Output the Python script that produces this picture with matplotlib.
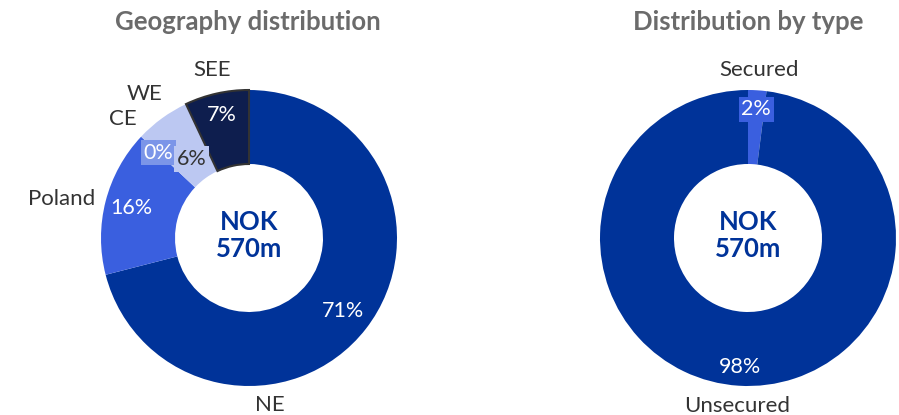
import numpy as np
import matplotlib.pyplot as plt

# geography split of the portfolio
geo_labels = ["NE", "Poland", "CE", "WE", "SEE"]
geo_values = [71, 16, 0, 6, 7]

# split by security type
type_labels = ["Secured", "Unsecured"]
type_values = [2, 98]

total_text = "NOK\n570m"

plt.rcParams["font.family"] = ["Lato", "DejaVu Sans"]

W, H = 899, 415
R_PX = 148.0
BLUE = "#003399"

geo_colors = ["#003399", "#3a5fdf", "#7b95e8", "#bcc8f2", "#0e1e4e"]
geo_text = ["white", "white", "white", "#333333", "white"]
type_colors = ["#3a5fdf", "#003399"]
type_text = ["white", "white"]


def set_frame(ax, x0, x1, cx, cy):
    # map pie radius 1 onto R_PX pixels, centred on (cx, cy)
    ax.set_xlim(-(cx - x0) / R_PX, (x1 - cx) / R_PX)
    ax.set_ylim(-(H - cy) / R_PX, cy / R_PX)
    ax.set_aspect("equal")
    ax.axis("off")


def draw_donut(ax, values, labels, colors, text_colors, pct_r, label_r, label_ang=None):
    wedges, _ = ax.pie(values, colors=colors, startangle=90, counterclock=False,
                       radius=1.0, wedgeprops=dict(width=0.5, linewidth=0))
    total = float(sum(values))
    start = 0.0
    for i, (v, w) in enumerate(zip(values, wedges)):
        mid = start + v / total * 180.0
        start += v / total * 360.0
        a = np.deg2rad(mid)
        pr = pct_r[i]
        ax.text(pr * np.sin(a), pr * np.cos(a), f"{v}%", ha="center", va="center",
                fontsize=15.5, color=text_colors[i], zorder=5,
                bbox=dict(boxstyle="square,pad=0.12", fc=colors[i], ec="none"))
        la = np.deg2rad(label_ang.get(i, mid) if label_ang else mid)
        lr = label_r[i]
        x, y = lr * np.sin(la), lr * np.cos(la)
        ha = "center"
        if x < -0.9:
            ha = "right"
        ax.text(x, y, labels[i], ha=ha, va="center", fontsize=16, color="#333333")
    ax.text(0, 0.02, total_text, ha="center", va="center", fontsize=18.5,
            fontweight="bold", color=BLUE, linespacing=1.15)
    return wedges


fig = plt.figure(figsize=(W / 100, H / 100), dpi=100)

ax1 = fig.add_axes([0, 0, 449.5 / W, 1])
w1 = draw_donut(ax1, geo_values, geo_labels, geo_colors, geo_text,
                pct_r=[0.80, 0.82, 0.84, 0.66, 0.85],
                label_r=[1.14, 1.07, 1.17, 1.2, 1.16],
                label_ang={0: 173})
w1[4].set_edgecolor("#333333")
w1[4].set_linewidth(1.5)
set_frame(ax1, 0, 449.5, 249, 238)

ax2 = fig.add_axes([449.5 / W, 0, 449.5 / W, 1])
draw_donut(ax2, type_values, type_labels, type_colors, type_text,
           pct_r=[0.87, 0.87], label_r=[1.14, 1.14])
set_frame(ax2, 449.5, W, 748, 238)

fig.text(248 / W, 1 - 22 / H, "Geography distribution", ha="center", va="center",
         fontsize=18.5, fontweight="bold", color="#6b6b6b")
fig.text(748 / W, 1 - 22 / H, "Distribution by type", ha="center", va="center",
         fontsize=18.5, fontweight="bold", color="#6b6b6b")

fig.savefig("out.png", dpi=100)
